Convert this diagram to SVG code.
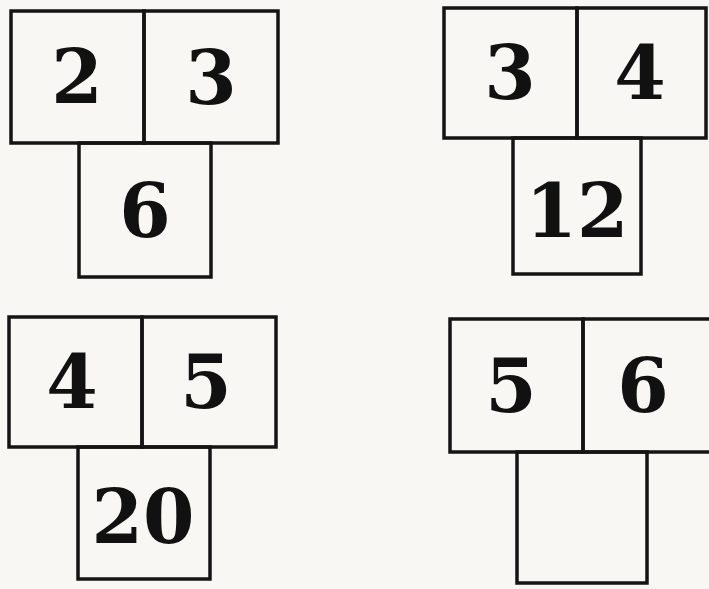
<svg xmlns="http://www.w3.org/2000/svg" width="709" height="589" viewBox="0 0 709 589">
<style>
.b{fill:none;stroke:#141414;stroke-width:3.5;stroke-linejoin:miter}
.t{font-family:"DejaVu Serif","Liberation Serif",serif;font-weight:bold;font-size:74px;fill:#111;text-anchor:middle}
</style>
<rect x="0" y="0" width="709" height="589" fill="#f8f7f3"/>
<g id="group1">
<g id="g1-a"><rect class="b" x="11" y="11" width="133" height="132"/><text class="t" x="77" y="103">2</text></g>
<g id="g1-b"><rect class="b" x="144" y="11" width="134" height="132"/><text class="t" x="211" y="104">3</text></g>
<g id="g1-c"><rect class="b" x="79" y="143" width="132" height="134"/><text class="t" x="145" y="237">6</text></g>
</g>
<g id="group2">
<g id="g2-a"><rect class="b" x="444" y="8" width="133" height="130"/><text class="t" x="510" y="99">3</text></g>
<g id="g2-b"><rect class="b" x="577" y="8" width="129" height="130"/><text class="t" x="640" y="99">4</text></g>
<g id="g2-c"><rect class="b" x="513" y="138" width="128" height="136"/><text class="t" x="577" y="237">12</text></g>
</g>
<g id="group3">
<g id="g3-a"><rect class="b" x="9" y="317" width="133" height="130"/><text class="t" x="72" y="408">4</text></g>
<g id="g3-b"><rect class="b" x="142" y="317" width="134" height="130"/><text class="t" x="206" y="408">5</text></g>
<g id="g3-c"><rect class="b" x="78" y="447" width="132" height="132"/><text class="t" x="143" y="543">20</text></g>
</g>
<g id="group4">
<g id="g4-a"><rect class="b" x="450" y="319" width="133" height="133"/><text class="t" x="511" y="412">5</text></g>
<g id="g4-b"><rect class="b" x="583" y="319" width="132" height="133"/><text class="t" x="643" y="412">6</text></g>
<g id="g4-c"><rect class="b" x="517" y="452" width="130" height="131"/></g>
</g>
<g id="connectors"></g>
</svg>
